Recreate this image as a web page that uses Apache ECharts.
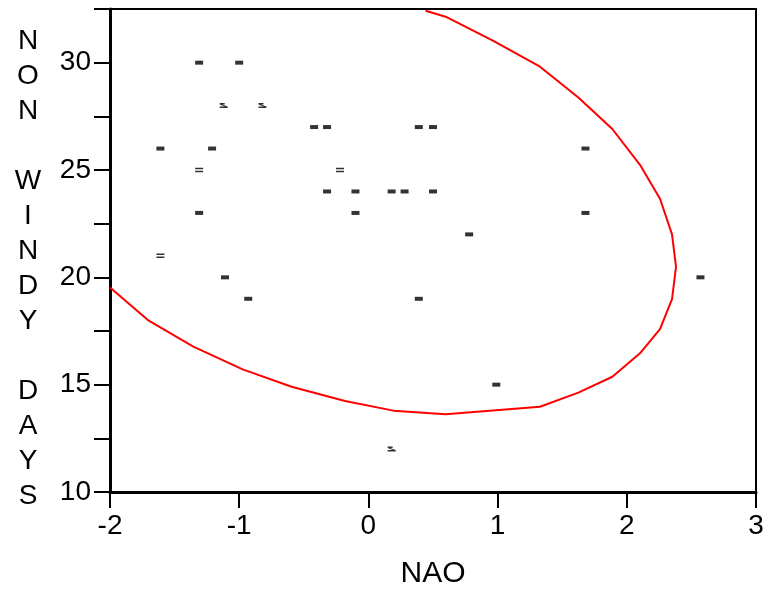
<!DOCTYPE html>
<html>
<head>
<meta charset="utf-8">
<script src="https://cdn.jsdelivr.net/npm/echarts@6/dist/echarts.min.js"></script>
<style>html,body{margin:0;padding:0;background:#fff;}#chart{width:767px;height:594px;}</style>
</head>
<body>
<div id="chart"></div>
<script>
// Plain markers (single dash)
const naoSingle = [-1.31, -1.0, -0.42, -0.32, 0.39, 0.5, -1.61, -1.21, 1.68, -0.32, -0.1, 0.18, 0.28, 0.5, -1.31, -0.1, 1.68, 0.78, -1.11, 2.57, -0.93, 0.39, 0.99];
const daysSingle = [30, 30, 27, 27, 27, 27, 26, 26, 26, 24, 24, 24, 24, 24, 23, 23, 23, 22, 20, 20, 19, 19, 15];
// Double markers ("=")
const naoDouble = [-1.31, -0.22, -1.61];
const daysDouble = [25, 25, 21];
// Hook markers
const naoHook = [-1.12, -0.82, 0.18];
const daysHook = [28, 28, 12];
// Ellipse outline
const ellipseNao = [-2.0, -1.70, -1.355, -0.973, -0.594, -0.181, 0.193, 0.598, 1.328, 1.625, 1.888, 2.102, 2.257, 2.35, 2.381, 2.35, 2.257, 2.102, 1.888, 1.625, 1.328, 0.967, 0.598, 0.443];
const ellipseDays = [19.53, 17.98, 16.77, 15.71, 14.90, 14.24, 13.79, 13.62, 13.97, 14.63, 15.37, 16.46, 17.59, 18.98, 20.49, 22.0, 23.66, 25.24, 26.91, 28.38, 29.81, 31.02, 32.14, 32.42];
const xTicks = [-2, -1, 0, 1, 2, 3];
const yTitle = 'NON WINDY DAYS';

const FONT = "'Liberation Sans', Arial, Helvetica, sans-serif";
const pairs = (a, b) => a.map((v, i) => [v, b[i]]);

const chart = echarts.init(document.getElementById('chart'), null, {renderer: 'canvas'});
chart.setOption({
  animation: false,
  backgroundColor: '#fff',
  grid: {left: 110, right: 11, top: 9, bottom: 102, show: true, borderColor: '#000', borderWidth: 2, backgroundColor: 'transparent'},
  xAxis: {
    type: 'value', min: xTicks[0], max: xTicks[xTicks.length - 1], interval: 1,
    name: 'NAO', nameLocation: 'middle', nameGap: 67,
    nameTextStyle: {fontFamily: FONT, fontSize: 30, color: '#000'},
    axisLine: {show: true, onZero: false, lineStyle: {color: '#000', width: 3}},
    axisTick: {show: true, length: 16, lineStyle: {color: '#000', width: 2}},
    axisLabel: {fontFamily: FONT, fontSize: 28, color: '#000', margin: 20},
    splitLine: {show: false}
  },
  yAxis: {
    type: 'value', min: 10, max: 32.5, interval: 2.5,
    axisLine: {show: true, onZero: false, lineStyle: {color: '#000', width: 3}},
    axisTick: {show: true, length: 16, lineStyle: {color: '#000', width: 2}},
    axisLabel: {fontFamily: FONT, fontSize: 28, color: '#000', margin: 19,
      formatter: v => (Math.abs(v % 5) < 1e-9 ? String(v) : '')},
    splitLine: {show: false}
  },
  graphic: [{
    type: 'text', x: 28, y: 24,
    style: {text: yTitle.split('').join('\n'), font: '28px ' + FONT, fill: '#000', lineHeight: 35, align: 'center', verticalAlign: 'top'}
  }],
  series: [
    {type: 'line', data: pairs(ellipseNao, ellipseDays), showSymbol: false, clip: true, smooth: false,
      lineStyle: {color: '#ff0000', width: 2}, z: 2},
    {type: 'scatter', data: pairs(naoSingle, daysSingle), symbol: 'rect', symbolSize: [8, 4],
      itemStyle: {color: '#000'}, z: 3},
    {type: 'scatter', data: pairs(naoDouble, daysDouble), symbol: 'path://M0,0H8V2H0Z M0,4H8V6H0Z', symbolSize: [8, 6], symbolKeepAspect: true,
      itemStyle: {color: '#000'}, z: 3},
    {type: 'scatter', data: pairs(naoHook, daysHook), symbol: 'path://M0,0L5,0L5,1.5L2.5,1.5L8,3.5L8,5L0,5L0,3.5L5,3.5L0,1.5Z', symbolSize: [8, 5],
      itemStyle: {color: '#000'}, z: 3}
  ]
});
</script>
</body>
</html>
